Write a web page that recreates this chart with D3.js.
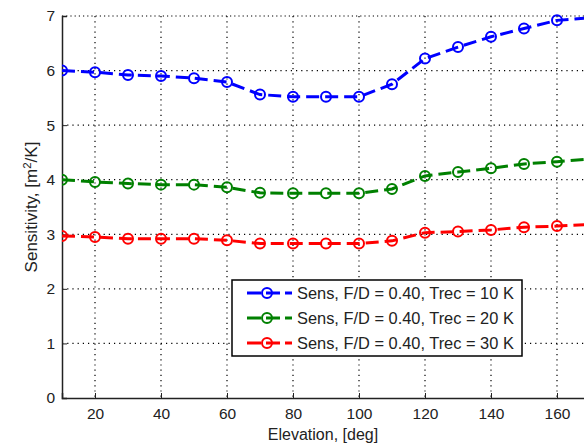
<!DOCTYPE html>
<html>
<head>
<meta charset="utf-8">
<script src="https://cdn.jsdelivr.net/npm/d3@7"></script>
<style>
  body { margin: 0; background: #fff; }
  svg { font-family: "Liberation Sans", Arial, sans-serif; }
</style>
</head>
<body>
<svg id="chart" width="584" height="444"></svg>
<script>
// Elevation angles (deg)
const ELEVATION = [10, 20, 30, 40, 50, 60, 70, 80, 90, 100, 110, 120, 130, 140, 150, 160, 170];

// Sensitivity values, m^2/K
const SENS_10K = [6.00, 5.97, 5.92, 5.90, 5.86, 5.79, 5.56, 5.52, 5.52, 5.52, 5.75, 6.22, 6.43, 6.62, 6.77, 6.92, 6.97];
const SENS_20K = [4.00, 3.96, 3.93, 3.91, 3.91, 3.86, 3.76, 3.75, 3.75, 3.75, 3.83, 4.07, 4.14, 4.21, 4.29, 4.33, 4.38];
const SENS_30K = [2.97, 2.95, 2.92, 2.92, 2.92, 2.89, 2.83, 2.83, 2.83, 2.83, 2.88, 3.03, 3.05, 3.08, 3.13, 3.15, 3.18];

const X_TICKS = [20, 40, 60, 80, 100, 120, 140, 160];
const Y_TICKS = [0, 1, 2, 3, 4, 5, 6, 7];

const SERIES = [
    {name: 'Sens, F/D = 0.40, Trec = 10 K', values: SENS_10K, color: '#0000ff'},
    {name: 'Sens, F/D = 0.40, Trec = 20 K', values: SENS_20K, color: '#008000'},
    {name: 'Sens, F/D = 0.40, Trec = 30 K', values: SENS_30K, color: '#ff0000'}
];

// Plot area (right side runs past the window, like the cropped original)
const LEFT = 62, TOP = 16, BOTTOM = 398, RIGHT = 590;

const svg = d3.select('svg#chart');

const x = d3.scaleLinear().domain([10, 170]).range([LEFT, RIGHT]);
const y = d3.scaleLinear().domain([0, 7]).range([BOTTOM, TOP]);

svg.append('defs').append('clipPath').attr('id', 'plotClip')
    .append('rect').attr('x', LEFT).attr('y', TOP - 8)
    .attr('width', RIGHT - LEFT).attr('height', BOTTOM - TOP + 8);

// Dotted grid
const grid = svg.append('g').attr('class', 'grid');
grid.selectAll('line.vx').data(X_TICKS).enter().append('line')
    .attr('x1', d => x(d)).attr('x2', d => x(d))
    .attr('y1', TOP).attr('y2', BOTTOM)
    .attr('stroke', '#000').attr('stroke-width', 1.2)
    .attr('stroke-dasharray', '1.2,4');
grid.selectAll('line.hy').data(Y_TICKS.filter(d => d > 0 && d < 7)).enter().append('line')
    .attr('x1', LEFT).attr('x2', RIGHT)
    .attr('y1', d => y(d)).attr('y2', d => y(d))
    .attr('stroke', '#000').attr('stroke-width', 1.2)
    .attr('stroke-dasharray', '1.2,4');

// Top box edge (dotted look in the original)
svg.append('line')
    .attr('x1', LEFT).attr('x2', RIGHT).attr('y1', TOP).attr('y2', TOP)
    .attr('stroke', '#000').attr('stroke-width', 1.2)
    .attr('stroke-dasharray', '1.2,3');

// Axes
const xAxis = d3.axisBottom(x).tickValues(X_TICKS).tickSize(-5).tickPadding(10);
const yAxis = d3.axisLeft(y).tickValues(Y_TICKS).tickFormat(d3.format('d')).tickSize(-5).tickPadding(7);

const gx = svg.append('g').attr('transform', `translate(0,${BOTTOM})`).call(xAxis);
const gy = svg.append('g').attr('transform', `translate(${LEFT},0)`).call(yAxis);

[gx, gy].forEach(g => {
    g.select('.domain').attr('stroke', '#222').attr('stroke-width', 1.5);
    g.selectAll('.tick line').attr('stroke', '#222');
    g.selectAll('.tick text').attr('fill', '#222').style('font-size', '15.5px')
        .style('font-family', '"Liberation Sans", Arial, sans-serif');
});

// Lines and markers
const line = d3.line().x((d, i) => x(ELEVATION[i])).y(d => y(d));
const plot = svg.append('g').attr('clip-path', 'url(#plotClip)');

SERIES.forEach(s => {
    plot.append('path')
        .datum(s.values)
        .attr('d', line)
        .attr('fill', 'none')
        .attr('stroke', s.color)
        .attr('stroke-width', 3)
        .attr('stroke-dasharray', '13,6');

    plot.selectAll(null).data(s.values).enter().append('circle')
        .attr('cx', (d, i) => x(ELEVATION[i]))
        .attr('cy', d => y(d))
        .attr('r', 5)
        .attr('fill', 'none')
        .attr('stroke', s.color)
        .attr('stroke-width', 2);
});

// Axis labels
svg.append('text')
    .attr('x', 323).attr('y', 440)
    .attr('text-anchor', 'middle')
    .attr('fill', '#222')
    .style('font-size', '16px')
    .text('Elevation, [deg]');

const yl = svg.append('text')
    .attr('transform', 'translate(37,207) rotate(-90)')
    .attr('text-anchor', 'middle')
    .attr('fill', '#222')
    .style('font-size', '17px');
yl.append('tspan').text('Sensitivity, [m');
yl.append('tspan').attr('dy', -6).style('font-size', '11.5px').text('2');
yl.append('tspan').attr('dy', 6).text('/K]');

// Legend
const LEG_X = 232, LEG_Y = 280, LEG_W = 290, LEG_H = 76;
const legend = svg.append('g');
legend.append('rect')
    .attr('x', LEG_X).attr('y', LEG_Y)
    .attr('width', LEG_W).attr('height', LEG_H)
    .attr('fill', '#fff').attr('stroke', '#000').attr('stroke-width', 1.5);

const rows = legend.selectAll('g.row').data(SERIES).enter().append('g')
    .attr('transform', (d, i) => `translate(${LEG_X},${LEG_Y + 13 + i * 25})`);

rows.append('line')
    .attr('x1', 15).attr('x2', 60).attr('y1', 0).attr('y2', 0)
    .attr('stroke', d => d.color).attr('stroke-width', 3)
    .attr('stroke-dasharray', '14,5');
rows.append('circle')
    .attr('cx', 35).attr('cy', 0).attr('r', 5)
    .attr('fill', 'none').attr('stroke', d => d.color).attr('stroke-width', 2);
rows.append('text')
    .attr('x', 65).attr('y', 6)
    .attr('fill', '#222')
    .style('font-size', '16.4px')
    .text(d => d.name);
</script>
</body>
</html>
